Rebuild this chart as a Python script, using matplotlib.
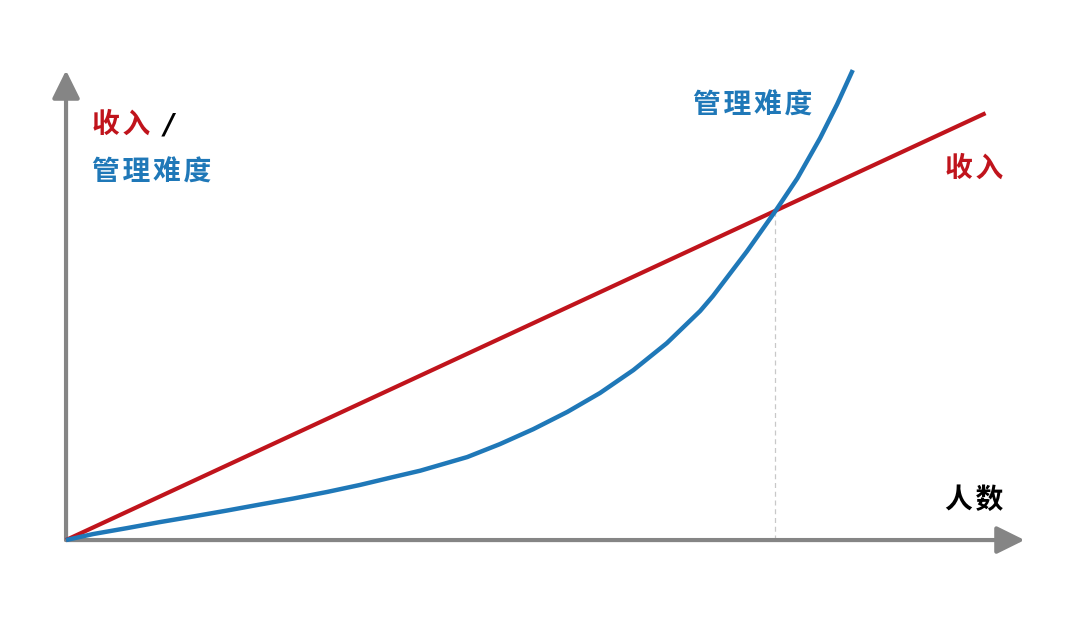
import matplotlib
matplotlib.use('Agg')
import matplotlib.pyplot as plt

plt.rcParams['font.family'] = ['Noto Sans CJK SC', 'DejaVu Sans']

# 人数 (x) and 管理难度 values
renshu = [0, 0.38, 0.86, 1.32, 1.79, 2.27, 2.73, 3.20, 3.68, 4.14, 4.61, 4.99,
          5.65, 6.11, 6.58, 7.06, 7.52, 7.99, 8.46, 8.93, 9.11, 9.59, 9.99,
          10.30, 10.62, 10.86, 11.08]
nandu = [0, 0.18, 0.36, 0.54, 0.71, 0.89, 1.07, 1.25, 1.45, 1.66, 1.90, 2.09,
         2.50, 2.89, 3.34, 3.86, 4.43, 5.12, 5.93, 6.90, 7.35, 8.70, 9.91,
         10.90, 12.11, 13.13, 14.16]

# 收入 is a straight line
shouru_x = [0, 12.95]
shouru_y = [0, 12.86]

jiaodian = (9.99, 9.91)

red = '#c0141c'
blue = '#1f78b8'
grey = '#858585'

fig = plt.figure(figsize=(10.8, 6.29), dpi=100)
ax = fig.add_axes([0, 0, 1, 1])
ax.set_xlim(-0.93, 14.28)
ax.set_ylim(-2.68, 16.27)
ax.axis('off')

# axes with arrows
arrow = dict(arrowstyle='-|>,head_length=0.85,head_width=0.42', color=grey,
             lw=3, shrinkA=0, shrinkB=0, mutation_scale=20)
ax.annotate('', xy=(13.5, 0), xytext=(0, 0), arrowprops=arrow)
ax.annotate('', xy=(0, 14.15), xytext=(0, 0), arrowprops=arrow)

# dashed guide at the crossing
ax.plot([jiaodian[0], jiaodian[0]], [0, jiaodian[1]], color='#c8c8c8',
        lw=0.9, ls=(0, (4, 3)), zorder=1)

ax.plot(shouru_x, shouru_y, color=red, lw=3, solid_capstyle='butt', zorder=3)
ax.plot(renshu, nandu, color=blue, lw=3.2, solid_capstyle='butt',
        solid_joinstyle='round', zorder=4)


def spaced(s):
    # a bit of letter spacing like the original
    return '\u200a'.join(s)


# labels
ax.text(0.37, 12.5, spaced('收入'), color=red, fontsize=20, fontweight='bold', va='center')
ax.text(1.38, 12.5, '/', color='black', fontsize=20, fontweight='bold', va='center',
        style='italic', family=['DejaVu Sans'])
ax.text(0.37, 11.08, spaced('管理难度'), color=blue, fontsize=20, fontweight='bold', va='center')
ax.text(8.83, 13.1, spaced('管理难度'), color=blue, fontsize=20, fontweight='bold', va='center')
ax.text(12.38, 11.2, spaced('收入'), color=red, fontsize=20, fontweight='bold', va='center')
ax.text(12.38, 1.2, spaced('人数'), color='black', fontsize=20, fontweight='bold', va='center')

fig.savefig('out.png', dpi=100, facecolor='white')
